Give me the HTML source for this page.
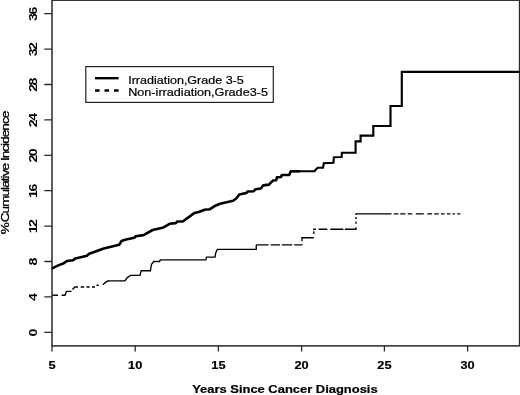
<!DOCTYPE html>
<html><head><meta charset="utf-8"><title>Cumulative Incidence</title>
<style>
html,body{margin:0;padding:0;background:#fff;}
svg{display:block;}
text{font-family:"Liberation Sans",Arial,Helvetica,sans-serif;fill:#000;}
.b{font-weight:bold;}
</style></head><body>
<svg width="520" height="395" viewBox="0 0 520 395">
<rect x="0" y="0" width="520" height="395" fill="#fff"/>
<!-- plot box -->
<rect x="52" y="0.2" width="467.6" height="345.7" fill="none" stroke="#2a2a2a" stroke-width="1.5"/>
<!-- y ticks -->
<g stroke="#2a2a2a" stroke-width="1.3" fill="none">
<path d="M44.3 13.7H52M44.3 49.1H52M44.3 84.5H52M44.3 119.9H52M44.3 155.3H52M44.3 190.7H52M44.3 226.1H52M44.3 261.5H52M44.3 296.9H52M44.3 332.3H52"/>
<path d="M52 345.5V351.5M135.2 345.5V351.5M218.4 345.5V351.5M301.6 345.5V351.5M384.4 345.5V351.5M467.6 345.5V351.5"/>
</g>
<!-- y tick labels -->
<g class="b" font-size="10.4" text-anchor="middle" letter-spacing="-1.1">
<text transform="translate(36.7 14.6) rotate(-90) scale(1.36 1)">36</text>
<text transform="translate(36.7 50.0) rotate(-90) scale(1.36 1)">32</text>
<text transform="translate(36.7 85.4) rotate(-90) scale(1.36 1)">28</text>
<text transform="translate(36.7 120.8) rotate(-90) scale(1.36 1)">24</text>
<text transform="translate(36.7 156.2) rotate(-90) scale(1.36 1)">20</text>
<text transform="translate(36.7 191.6) rotate(-90) scale(1.36 1)">16</text>
<text transform="translate(36.7 227.0) rotate(-90) scale(1.36 1)">12</text>
<text transform="translate(36.7 262.4) rotate(-90) scale(1.36 1)">8</text>
<text transform="translate(36.7 297.8) rotate(-90) scale(1.36 1)">4</text>
<text transform="translate(36.7 333.2) rotate(-90) scale(1.36 1)">0</text>
</g>
<!-- x tick labels -->
<g class="b" font-size="11" text-anchor="middle" stroke="#000" stroke-width="0.2">
<text transform="translate(52 368.6) scale(1.16 1)">5</text>
<text transform="translate(135.2 368.6) scale(1.16 1)">10</text>
<text transform="translate(218.4 368.6) scale(1.16 1)">15</text>
<text transform="translate(301.6 368.6) scale(1.16 1)">20</text>
<text transform="translate(384.4 368.6) scale(1.16 1)">25</text>
<text transform="translate(467.6 368.6) scale(1.16 1)">30</text>
</g>
<!-- axis titles -->
<text class="b" font-size="10.4" text-anchor="middle" stroke="#000" stroke-width="0.2" transform="translate(284.9 392.9) scale(1.245 1)">Years Since Cancer Diagnosis</text>
<text font-size="10.6" text-anchor="middle" letter-spacing="-0.74" stroke="#000" stroke-width="0.3" transform="translate(8.7 173) rotate(-90) scale(1.28 1)">%<tspan dx="0.8">Cumulative Incidence</tspan></text>
<!-- legend -->
<rect x="85.8" y="66.6" width="187.5" height="35.8" fill="#fff" stroke="#222" stroke-width="1.2"/>
<path d="M95 78.2H118.6" stroke="#000" stroke-width="2.4" fill="none"/>
<path d="M95 90.5H118.6" stroke="#000" stroke-width="2.3" fill="none" stroke-dasharray="4.6 4.9"/>
<text font-size="10.8" stroke="#000" stroke-width="0.2" transform="translate(128.2 83.8) scale(1.161 1)">Irradiation,Grade 3-5</text>
<text font-size="10.8" stroke="#000" stroke-width="0.2" transform="translate(128.2 95.6) scale(1.17 1)">Non-irradiation,Grade3-5</text>
<!-- solid curve -->
<polyline fill="none" stroke="#000" stroke-width="2.6" stroke-linejoin="round" points="51.8,268.6 57.7,265.6 63.8,263.3 66.9,261 73,260.2 75.4,258.4 86.9,255.8 89.2,253.8 96.2,251.3 103.8,248.5 119.2,244.8 121.5,241 125,239.7 134.2,237.7 135.8,236.2 143.5,235.1 152.7,230 163.5,227.4 169.6,223.8 175.8,223.1 177.3,221.5 182.7,221.5 194.2,213.1 198.8,212 204.6,209.7 210,209.2 215.4,205.7 220,203.8 233.1,200.8 236.2,198.5 239.2,194.6 246.2,193.1 247.7,191.5 253.8,191.2 255.4,189.2 260.8,188.5 263.1,185.4 269.2,184.6 270.3,183.1 273.1,180.5 276.2,180.2 276.9,177.4 280.8,177 282,175 289.2,174.9 290.8,171.2 300,171.2"/>
<polyline fill="none" stroke="#000" stroke-width="2.15" stroke-linejoin="miter" points="290.8,171.2 314.6,171.2 315.4,170 317.7,167.7 323,167.7 323.8,163.3 333.4,162.8 333.9,157.2 341.6,157 341.9,152.7 355.6,152.7 355.6,141.4 360.6,141.4 360.6,135.6 373.3,135.6 373.3,126 390.5,126 390.5,106 401.8,106 401.8,71.8 519.5,71.8"/>
<!-- dashed curve -->
<g fill="none" stroke="#000" stroke-width="1.35">
<path d="M52.5 295.2H58M61.6 295.2H65L66.5 291.3H71.5M72.4 289.6L75 287H78M80.7 287H84.2M86.5 287H89.6M92 287H95M96.5 285.2H98.8M102.8 284.8L105.5 282.4L107.7 281H108.5"/>
<polyline points="108,280.8 125,280.8 127.3,277.6 130.8,275.3 140,275.3 141.2,270.7 150.4,270.7 151.5,264.2 153.8,261.5 159.6,261.5 160.3,259.9 205.8,259.9 206.5,257.1 215,257.1 215.7,252.9 217.3,249.4 256.25,249.4 256.25,244.9"/>
<path d="M256.25 244.9H268.6M270.6 244.9H280M281.8 244.9H292.3M294.2 244.9H302.6M302 241.3V237.7H313.8M313.8 234V231.2M313.8 230V229.2H315.9M318.5 229.2H327.3M330.3 229.2H343.4M344.8 229.2H356V227.2M356 223.8V221.8M356 219.1V217.1M356 215V213.8H391.5"/>
<path d="M393.8 213.8H398.5M400.3 213.8H405.4M407.7 213.8H412.3M415.8 213.8H423.8M427.3 213.8H432.0M434.2 213.8H438.8M441.0 213.8H444.6M447.0 213.8H450.4M452.7 213.8H455.0M457.3 213.8H460.3"/>
</g>
</svg>
</body></html>
